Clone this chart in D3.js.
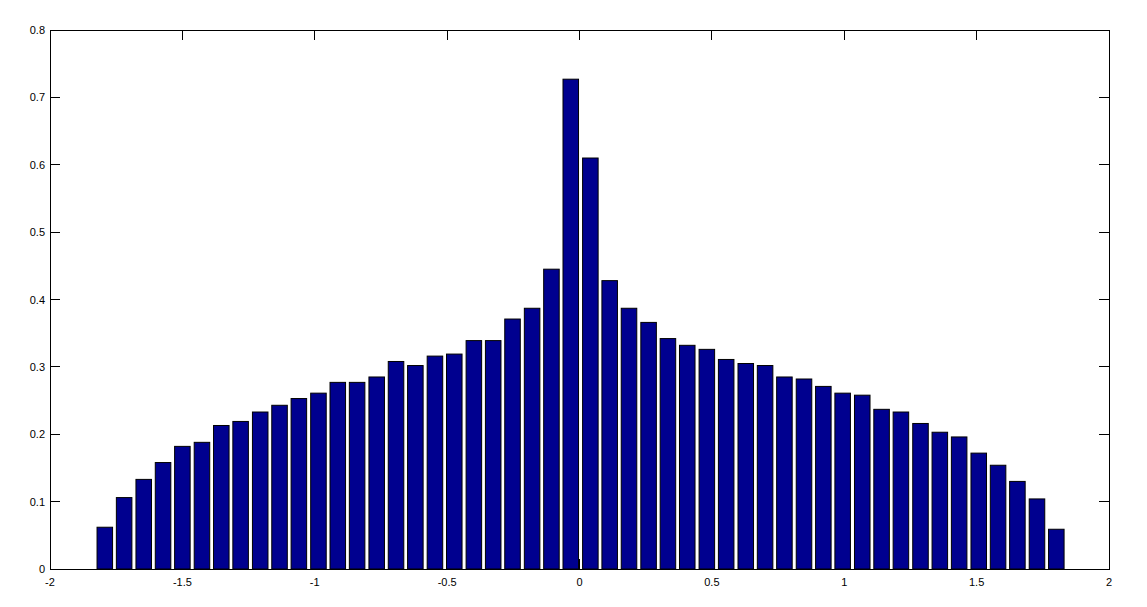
<!DOCTYPE html>
<html>
<head>
<meta charset="utf-8">
<script src="https://cdn.jsdelivr.net/npm/d3@7"></script>
<style>
  html, body { margin: 0; padding: 0; background: #fff; }
  svg { display: block; }
  text { font-family: "Liberation Sans", Arial, Helvetica, sans-serif; font-size: 11px; fill: #000; }
</style>
</head>
<body>
<svg id="chart" width="1147" height="607"></svg>
<script>
// Bin centres (x) and bar heights (y)
const binCenters = [
  -1.793, -1.720, -1.646, -1.573, -1.500, -1.426, -1.353, -1.280, -1.206, -1.133,
  -1.060, -0.986, -0.913, -0.840, -0.766, -0.693, -0.620, -0.546, -0.473, -0.399,
  -0.326, -0.253, -0.179, -0.106, -0.033,  0.041,  0.114,  0.187,  0.261,  0.334,
   0.407,  0.481,  0.554,  0.628,  0.701,  0.774,  0.848,  0.921,  0.994,  1.068,
   1.141,  1.214,  1.288,  1.361,  1.434,  1.508,  1.581,  1.654,  1.728,  1.801
];
const barValues = [
  0.062, 0.106, 0.133, 0.158, 0.182, 0.188, 0.213, 0.219, 0.233, 0.243,
  0.253, 0.261, 0.277, 0.277, 0.285, 0.308, 0.302, 0.316, 0.319, 0.339,
  0.339, 0.371, 0.387, 0.445, 0.727, 0.610, 0.428, 0.387, 0.366, 0.342,
  0.332, 0.326, 0.311, 0.305, 0.302, 0.285, 0.282, 0.271, 0.261, 0.258,
  0.237, 0.233, 0.216, 0.203, 0.196, 0.172, 0.154, 0.130, 0.104, 0.059
];
const xTicks = [-2, -1.5, -1, -0.5, 0, 0.5, 1, 1.5, 2];
const xTickLabels = ["-2", "-1.5", "-1", "-0.5", "0", "0.5", "1", "1.5", "2"];
const yTicks = [0, 0.1, 0.2, 0.3, 0.4, 0.5, 0.6, 0.7, 0.8];
const yTickLabels = ["0", "0.1", "0.2", "0.3", "0.4", "0.5", "0.6", "0.7", "0.8"];
const binWidth = 0.07334;
const barRatio = 0.8;

const svg = d3.select("#chart");
const pL = 50, pR = 1109, pT = 30, pB = 569;
const x = d3.scaleLinear().domain([-2, 2]).range([pL, pR]);
const y = d3.scaleLinear().domain([0, 0.8]).range([pB, pT]);
const tickLen = 10;

// Ticks (drawn beneath bars)
const tickG = svg.append("g").attr("stroke", "#000").attr("stroke-width", 1).attr("shape-rendering", "crispEdges");
xTicks.forEach(v => {
  const px = Math.floor(x(v)) + 0.5;
  tickG.append("line").attr("x1", px).attr("x2", px).attr("y1", pB).attr("y2", pB - tickLen);
  tickG.append("line").attr("x1", px).attr("x2", px).attr("y1", pT).attr("y2", pT + tickLen);
});
yTicks.forEach(v => {
  const py = Math.floor(y(v)) + 0.5;
  tickG.append("line").attr("x1", pL).attr("x2", pL + tickLen).attr("y1", py).attr("y2", py);
  tickG.append("line").attr("x1", pR).attr("x2", pR - tickLen).attr("y1", py).attr("y2", py);
});

// Bars
const data = binCenters.map((c, i) => ({ c, v: barValues[i] }));
const bw = x(binWidth * barRatio) - x(0);
svg.append("g").selectAll("rect").data(data).join("rect")
  .attr("x", d => x(d.c) - bw / 2)
  .attr("y", d => y(d.v))
  .attr("width", bw)
  .attr("height", d => y(0) - y(d.v))
  .attr("fill", "#00008f")
  .attr("stroke", "#000")
  .attr("stroke-width", 1);

// Box
svg.append("rect")
  .attr("x", pL + 0.5).attr("y", pT + 0.5)
  .attr("width", pR - pL).attr("height", pB - pT)
  .attr("fill", "none").attr("stroke", "#000").attr("stroke-width", 1)
  .attr("shape-rendering", "crispEdges");

// Tick labels
svg.append("g").selectAll("text").data(xTicks).join("text")
  .attr("x", d => x(d))
  .attr("y", pB + 17)
  .attr("text-anchor", "middle")
  .text((d, i) => xTickLabels[i]);
svg.append("g").selectAll("text").data(yTicks).join("text")
  .attr("x", pL - 5)
  .attr("y", d => y(d) + 4)
  .attr("text-anchor", "end")
  .text((d, i) => yTickLabels[i]);
</script>
</body>
</html>
